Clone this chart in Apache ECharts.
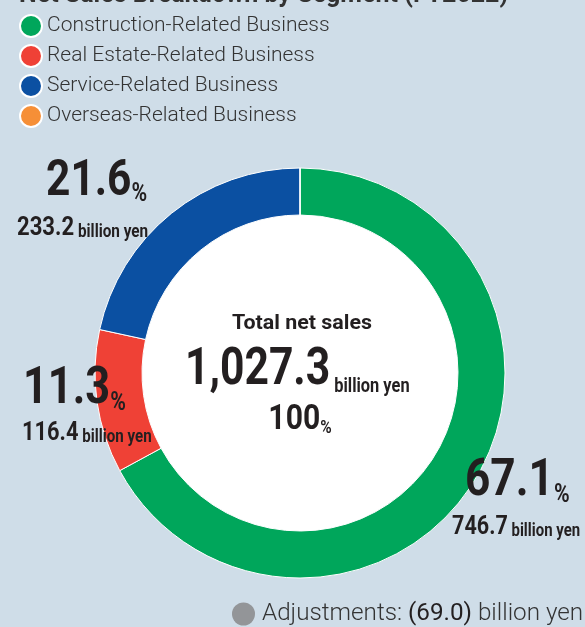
<!DOCTYPE html>
<html><head><meta charset="utf-8">
<script src="https://cdn.jsdelivr.net/npm/echarts@6/dist/echarts.min.js"></script>
<style>html,body{margin:0;padding:0;background:#cfdde8}#c{width:585px;height:627px}</style>
</head><body><div id="c"></div>
<script>
const titleText = 'Net Sales Breakdown by Segment (FY2022)';
const segments = ['Construction-Related Business','Real Estate-Related Business','Service-Related Business','Overseas-Related Business'];
const shares = [67.1, 11.3, 21.6, 0];
const amounts = ['746.7', '116.4', '233.2', null];
const colors = ['#00a65b', '#ef4136', '#0b50a2', '#f68f37'];
const totalLabel = 'Total net sales';
const totalSales = '1,027.3';
const totalShare = '100';
const unitText = 'billion yen';
const adjustments = '(69.0)';

const COND = 'Roboto, "Liberation Sans", sans-serif';
const LIGHT = 'Roboto, "Noto Sans", sans-serif';
const DARK = '#231f20';
const MID = 0.34; // Roboto: distance from canvas 'middle' baseline to alphabetic baseline, in em

// One line of (possibly mixed-size) text, sharing an alphabetic baseline, horizontally scaled.
function textLine(x, base, tokens, scale, align) {
  const F = Math.max(...tokens.map(t => t.size));
  const rich = {};
  let text = '';
  tokens.forEach((t, i) => {
    rich['t' + i] = {
      fontFamily: t.family || COND, fontWeight: t.weight || 'bold', fontSize: t.size,
      fill: t.color || DARK, lineHeight: 0.32 * F + 0.68 * t.size, verticalAlign: 'bottom'
    };
    text += '{t' + i + '|' + t.text + '}';
  });
  return {
    type: 'text', x: x, y: base - MID * F, scaleX: scale, z: 100,
    style: {text: text, rich: rich, align: align || 'left', verticalAlign: 'middle'}
  };
}

const chart = echarts.init(document.getElementById('c'), null, {renderer: 'canvas'});
chart.setOption({
  backgroundColor: '#cfdde8',
  animation: false,
  color: colors,
  title: {
    text: titleText, left: 19, top: -16.5, padding: 0,
    textStyle: {fontFamily: COND, fontWeight: 'bold', fontSize: 25, color: '#333'}
  },
  legend: {
    orient: 'vertical', left: 19, top: 14, padding: 0,
    icon: 'circle', itemWidth: 22, itemHeight: 22, itemGap: 6,
    data: segments,
    selectedMode: false,
    textStyle: {fontFamily: LIGHT, fontWeight: 300, fontSize: 21, lineHeight: 22, height: 22, color: '#333'}
  },
  series: [{
    type: 'pie',
    center: [300, 373],
    radius: [158, 205],
    startAngle: 90,
    clockwise: true,
    silent: true,
    label: {show: false},
    labelLine: {show: false},
    itemStyle: {borderColor: '#ffffff', borderWidth: 1},
    data: segments.map((s, i) => ({name: s, value: shares[i]}))
  }],
  graphic: [
    {type: 'circle', z: 1, shape: {cx: 300, cy: 373, r: 158}, style: {fill: '#ffffff'}},
    // Service
    textLine(46, 199, [{text: shares[2], size: 50}, {text: '%', size: 25}], 0.85),
    textLine(17, 237, [{text: amounts[2], size: 26}, {text: ' ' + unitText, size: 18}], 0.85),
    // Real estate
    textLine(23, 408, [{text: shares[1], size: 51}, {text: '%', size: 25}], 0.85),
    textLine(22, 442, [{text: amounts[1], size: 26}, {text: ' ' + unitText, size: 18}], 0.84),
    // Construction
    textLine(465, 500, [{text: shares[0], size: 52}, {text: '%', size: 25}], 0.85),
    textLine(452, 536, [{text: amounts[0], size: 26}, {text: ' ' + unitText, size: 18}], 0.83),
    // Centre
    textLine(302, 331, [{text: totalLabel, size: 21}], 1.02, 'center'),
    textLine(185, 389, [{text: totalSales, size: 52}, {text: ' ' + unitText, size: 20}], 0.82),
    textLine(300, 432, [{text: totalShare, size: 35}, {text: '%', size: 18}], 0.86, 'center'),
    // Adjustments
    {type: 'circle', z: 100, shape: {cx: 243.5, cy: 614, r: 11.5}, style: {fill: '#939598'}},
    textLine(262, 622, [
      {text: 'Adjustments: ', size: 24, weight: 300, family: LIGHT, color: '#333'},
      {text: adjustments, size: 24, weight: 'normal', family: LIGHT, color: DARK},
      {text: ' ' + unitText, size: 24, weight: 300, family: LIGHT, color: '#333'}
    ], 1.01)
  ]
});
</script></body></html>
